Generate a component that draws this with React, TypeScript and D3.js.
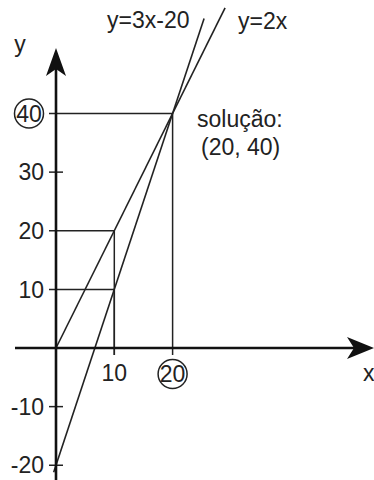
import * as d3 from 'd3'

// values
const xTicks = [10, 20]
const yTicks = [40, 30, 20, 10, -10, -20]
const circledX = [20]
const circledY = [40]
const lineNames = ['y=2x', 'y=3x-20']
const slopes = [2, 3]
const intercepts = [0, -20]
const lineStart = [0, -0.4]
const lineEnd = [29, 25.4]
// points joined to both axes by thin guide lines
const guideX = [10, 10, 20]
const guideY = [10, 20, 40]
const solutionText = ['solução:', '(20, 40)']

const W = 374
const H = 480
const FONT = '"Liberation Sans", Arial, sans-serif'
const FS = 23

export default function App() {
  const x = d3.scaleLinear().domain([0, 20]).range([56, 172.6])
  const y = d3.scaleLinear().domain([0, 40]).range([348, 113.5])

  const x0 = x(0)
  const y0 = y(0)

  const line = d3
    .line<number>()
    .x(d => d[0])
    .y(d => d[1])

  return (
    <svg
      width={W}
      height={H}
      style={{ position: 'absolute', left: 0, top: 0, background: '#fff' }}
      fontFamily={FONT}
      fontSize={FS}
    >
      {/* guide lines */}
      {guideX.map((gx, i) => (
        <g key={'g' + i} stroke="#222" strokeWidth={1.5} fill="none">
          <line x1={x0 - 7} x2={x(gx)} y1={y(guideY[i])} y2={y(guideY[i])} />
          <line x1={x(gx)} x2={x(gx)} y1={y(guideY[i])} y2={y0 + 7} />
        </g>
      ))}

      {/* plain y ticks */}
      {yTicks
        .filter(t => !guideY.includes(t))
        .map(t => (
          <line key={'yt' + t} x1={x0 - 7} x2={x0 + 7} y1={y(t)} y2={y(t)} stroke="#222" strokeWidth={1.5} />
        ))}

      {/* the two lines */}
      {slopes.map((m, i) => (
        <path
          key={lineNames[i]}
          d={line([
            [x(lineStart[i]), y(m * lineStart[i] + intercepts[i])],
            [x(lineEnd[i]), y(m * lineEnd[i] + intercepts[i])],
          ] as any) || ''}
          stroke="#222"
          strokeWidth={1.6}
          fill="none"
        />
      ))}

      {/* axes */}
      <line x1={15} x2={360} y1={y0} y2={y0} stroke="#111" strokeWidth={2.6} />
      <line x1={x0} x2={x0} y1={H} y2={62} stroke="#111" strokeWidth={2.6} />
      <path
        d={`M${W},${y0} L${W - 27},${y0 - 11} L${W - 20},${y0} L${W - 27},${y0 + 11} Z`}
        fill="#111"
      />
      <path
        d={`M${x0},48 L${x0 + 10},76 L${x0},69 L${x0 - 10},76 Z`}
        fill="#111"
      />

      {/* axis names */}
      <text x={20} y={52} textAnchor="middle" fill="#222">y</text>
      <text x={363} y={381} fill="#222">x</text>

      {/* y tick labels */}
      {yTicks.map(t =>
        circledY.includes(t) ? (
          <g key={'yl' + t}>
            <circle cx={29} cy={y(t)} r={14.5} fill="none" stroke="#222" strokeWidth={1.5} />
            <text x={29} y={y(t) + 8.2} textAnchor="middle" fill="#222">{t}</text>
          </g>
        ) : (
          <text key={'yl' + t} x={44} y={y(t) + 8.2} textAnchor="end" fill="#222">{t}</text>
        )
      )}

      {/* x tick labels */}
      {xTicks.map(t =>
        circledX.includes(t) ? (
          <g key={'xl' + t}>
            <circle cx={x(t)} cy={374} r={14.5} fill="none" stroke="#222" strokeWidth={1.5} />
            <text x={x(t)} y={382.2} textAnchor="middle" fill="#222">{t}</text>
          </g>
        ) : (
          <text key={'xl' + t} x={x(t)} y={381} textAnchor="middle" fill="#222">{t}</text>
        )
      )}

      {/* line labels */}
      <text x={238} y={29} fill="#222">{lineNames[0]}</text>
      <text x={107} y={28} fill="#222">{lineNames[1]}</text>

      {/* solution */}
      <text x={197} y={127} fill="#222">{solutionText[0]}</text>
      <text x={201} y={155} fill="#222">{solutionText[1]}</text>
    </svg>
  )
}
